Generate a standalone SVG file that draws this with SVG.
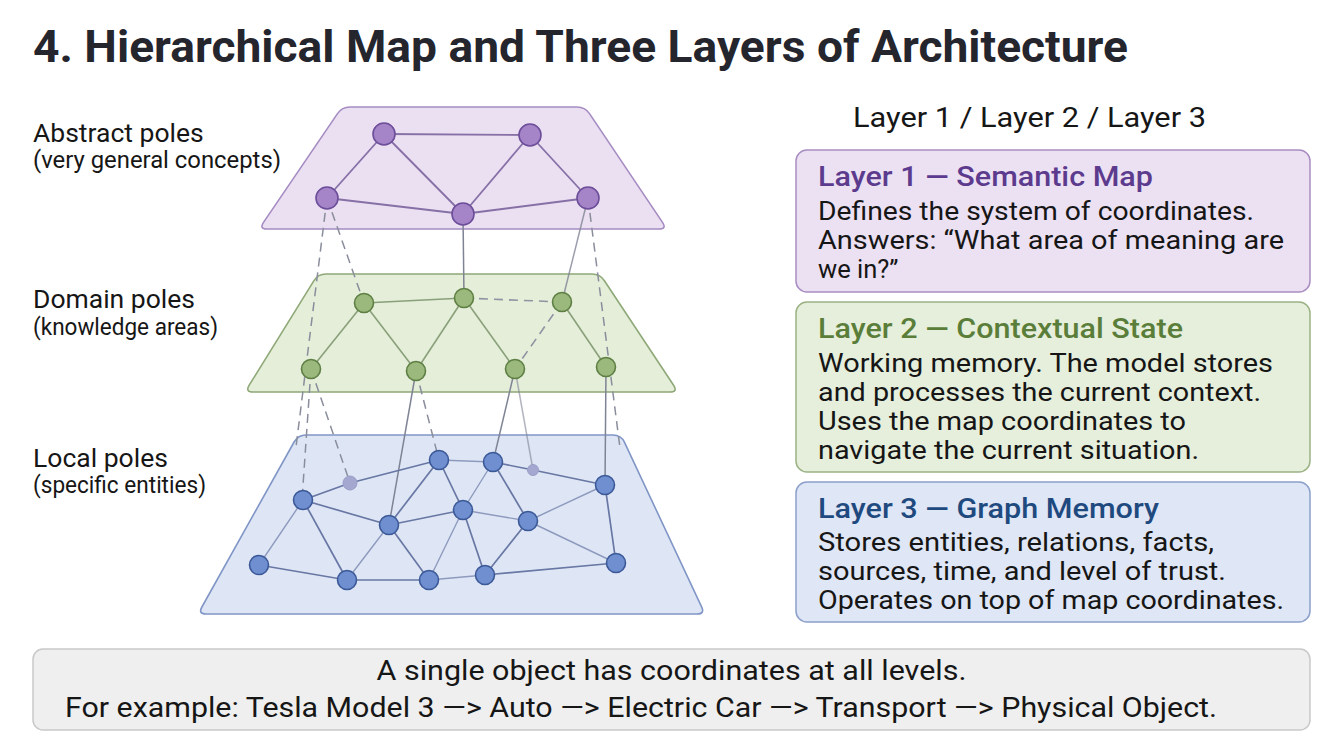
<svg xmlns="http://www.w3.org/2000/svg" width="1344" height="750" viewBox="0 0 1344 750">
<style>
text{font-family:Roboto,"Liberation Sans",Arial,sans-serif;fill:#161616}
.title{font-size:45px;font-weight:700;fill:#25252e}
.lbl{font-size:26.5px}
.sub{font-size:23px}
.bt{font-size:27px;font-weight:500}
.bd{font-size:25.5px}
.ft{font-size:27.5px}
.pe{stroke:#8670a6;stroke-width:1.8;fill:none}
.ge{stroke:#8aa07a;stroke-width:1.6;fill:none}
.gd{stroke:#8e94a2;stroke-width:1.6;fill:none;stroke-dasharray:9 6}
.be{stroke:#6877a3;stroke-width:1.7;fill:none}
.bl{stroke:#8e9abd;stroke-width:1.4;fill:none}
.il{stroke:#7f8495;stroke-width:1.5;fill:none}
.ild{stroke:#8a8e9c;stroke-width:1.5;fill:none;stroke-dasharray:9 6}
.pn{fill:#a684c8;stroke:#6c4d99;stroke-width:1.6}
.gn{fill:#9bb97d;stroke:#5e7f44;stroke-width:1.6}
.bn{fill:#6f8fd1;stroke:#3c5997;stroke-width:1.6}
.fn{fill:#a4a7cf;stroke:#9a9ec8;stroke-width:1}
</style>
<rect width="1344" height="750" fill="#ffffff"/>
<text class="title" x="33" y="62" textLength="1095" lengthAdjust="spacingAndGlyphs">4. Hierarchical Map and Three Layers of Architecture</text>

<g id="labels">
<text class="lbl" x="33" y="142">Abstract poles</text>
<text class="sub" x="33" y="168" textLength="248" lengthAdjust="spacingAndGlyphs">(very general concepts)</text>
<text class="lbl" x="33" y="308">Domain poles</text>
<text class="sub" x="33" y="335" textLength="185" lengthAdjust="spacingAndGlyphs">(knowledge areas)</text>
<text class="lbl" x="33" y="467">Local poles</text>
<text class="sub" x="33" y="493" textLength="173" lengthAdjust="spacingAndGlyphs">(specific entities)</text>
</g>

<g id="plane-abstract">
<path d="M350,107 L577,107 Q585,107 589.5,113.6 L662.5,222.4 Q667,229 659,229 L267,229 Q259,229 263.5,222.4 L337.5,113.6 Q342,107 350,107 Z" fill="#ebdff2" stroke="#a58cc2" stroke-width="1.6"/>
</g>
<g id="plane-domain">
<path d="M326,274 L592,274 Q600,274 604.4,280.7 L673.6,385.3 Q678,392 670,392 L253,392 Q245,392 249.2,385.2 L313.8,280.8 Q318,274 326,274 Z" fill="#e4eed9" stroke="#8fa878" stroke-width="1.6"/>
</g>
<g id="plane-local">
<path d="M306,435 L613,435 Q621,435 624.4,442.2 L701.6,606.8 Q705,614 697,614 L206,614 Q198,614 201.9,607 L294.1,442 Q298,435 306,435 Z" fill="#dee6f6" stroke="#8196c6" stroke-width="1.6"/>
</g>

<g id="connectors">
<line class="pe" x1="384" y1="134" x2="530" y2="135"/>
<line class="pe" x1="384" y1="134" x2="327" y2="198"/>
<line class="pe" x1="384" y1="134" x2="463" y2="214"/>
<line class="pe" x1="530" y1="135" x2="463" y2="214"/>
<line class="pe" x1="530" y1="135" x2="588" y2="198"/>
<line class="pe" x1="327" y1="198" x2="463" y2="214"/>
<line class="pe" x1="463" y1="214" x2="588" y2="198"/>
<line class="ild" x1="327" y1="198" x2="296" y2="447"/>
<line class="ild" x1="327" y1="198" x2="364" y2="303"/>
<line class="il" x1="463" y1="214" x2="464" y2="298"/>
<line class="il" x1="588" y1="198" x2="562" y2="302" stroke-opacity="0.8"/>
<line class="ild" x1="588" y1="198" x2="620" y2="448"/>
<line class="ge" x1="364" y1="303" x2="464" y2="298"/>
<line class="gd" x1="464" y1="298" x2="562" y2="302"/>
<line class="ge" x1="364" y1="303" x2="311" y2="369"/>
<line class="ge" x1="364" y1="303" x2="416" y2="371"/>
<line class="ge" x1="464" y1="298" x2="416" y2="371"/>
<line class="ge" x1="464" y1="298" x2="515" y2="369" stroke="#949ca6"/>
<line class="gd" x1="562" y1="302" x2="515" y2="369"/>
<line class="ge" x1="562" y1="302" x2="606" y2="367" stroke="#949ca6"/>
<line class="ild" x1="311" y1="369" x2="302" y2="500"/>
<line class="ild" x1="311" y1="369" x2="350" y2="483"/>
<line class="il" x1="416" y1="371" x2="389" y2="525"/>
<line class="ild" x1="416" y1="371" x2="439" y2="460"/>
<line class="il" x1="515" y1="369" x2="493" y2="462"/>
<line class="il" x1="515" y1="369" x2="533" y2="470" stroke-opacity="0.6"/>
<line class="il" x1="606" y1="367" x2="605" y2="485"/>
<line class="be" x1="303" y1="500" x2="350" y2="483"/>
<line class="be" x1="350" y1="483" x2="439" y2="460"/>
<line class="bl" x1="439" y1="460" x2="493" y2="462"/>
<line class="be" x1="493" y1="462" x2="533" y2="470"/>
<line class="be" x1="533" y1="470" x2="605" y2="485"/>
<line class="bl" x1="303" y1="500" x2="259" y2="565"/>
<line class="be" x1="303" y1="500" x2="347" y2="580"/>
<line class="be" x1="303" y1="500" x2="389" y2="525"/>
<line class="be" x1="389" y1="525" x2="439" y2="460"/>
<line class="be" x1="389" y1="525" x2="463" y2="510"/>
<line class="bl" x1="389" y1="525" x2="347" y2="580"/>
<line class="be" x1="389" y1="525" x2="429" y2="580"/>
<line class="be" x1="439" y1="460" x2="463" y2="510"/>
<line class="bl" x1="493" y1="462" x2="463" y2="510"/>
<line class="be" x1="493" y1="462" x2="528" y2="521"/>
<line class="bl" x1="463" y1="510" x2="429" y2="580"/>
<line class="be" x1="463" y1="510" x2="485" y2="575"/>
<line class="bl" x1="463" y1="510" x2="528" y2="521"/>
<line class="be" x1="528" y1="521" x2="485" y2="575"/>
<line class="bl" x1="528" y1="521" x2="605" y2="485"/>
<line class="bl" x1="528" y1="521" x2="616" y2="563"/>
<line class="be" x1="605" y1="485" x2="616" y2="563"/>
<line class="be" x1="259" y1="565" x2="347" y2="580"/>
<line class="be" x1="347" y1="580" x2="429" y2="580"/>
<line class="bl" x1="429" y1="580" x2="485" y2="575"/>
<line class="be" x1="485" y1="575" x2="616" y2="563"/>
</g>

<g id="n-a1"><circle class="pn" cx="384" cy="134" r="11"/></g>
<g id="n-a2"><circle class="pn" cx="530" cy="135" r="11"/></g>
<g id="n-a3"><circle class="pn" cx="327" cy="198" r="11"/></g>
<g id="n-a4"><circle class="pn" cx="463" cy="214" r="11"/></g>
<g id="n-a5"><circle class="pn" cx="588" cy="198" r="11"/></g>

<g id="n-d1"><circle class="gn" cx="364" cy="303" r="9.5"/></g>
<g id="n-d2"><circle class="gn" cx="464" cy="298" r="9.5"/></g>
<g id="n-d3"><circle class="gn" cx="562" cy="302" r="9.5"/></g>
<g id="n-d4"><circle class="gn" cx="311" cy="369" r="9.5"/></g>
<g id="n-d5"><circle class="gn" cx="416" cy="371" r="9.5"/></g>
<g id="n-d6"><circle class="gn" cx="515" cy="369" r="9.5"/></g>
<g id="n-d7"><circle class="gn" cx="606" cy="367" r="9.5"/></g>

<g id="n-l1"><circle class="bn" cx="303" cy="500" r="9.5"/></g>
<g id="n-l2"><circle class="fn" cx="350" cy="483" r="7"/></g>
<g id="n-l3"><circle class="bn" cx="439" cy="460" r="9.5"/></g>
<g id="n-l4"><circle class="bn" cx="493" cy="462" r="9.5"/></g>
<g id="n-l5"><circle class="fn" cx="533" cy="470" r="5.5"/></g>
<g id="n-l6"><circle class="bn" cx="605" cy="485" r="9.5"/></g>
<g id="n-l7"><circle class="bn" cx="389" cy="525" r="9.5"/></g>
<g id="n-l8"><circle class="bn" cx="463" cy="510" r="9.5"/></g>
<g id="n-l9"><circle class="bn" cx="528" cy="521" r="9.5"/></g>
<g id="n-l10"><circle class="bn" cx="259" cy="565" r="9.5"/></g>
<g id="n-l11"><circle class="bn" cx="347" cy="580" r="9.5"/></g>
<g id="n-l12"><circle class="bn" cx="429" cy="580" r="9.5"/></g>
<g id="n-l13"><circle class="bn" cx="485" cy="575" r="9.5"/></g>
<g id="n-l14"><circle class="bn" cx="616" cy="563" r="9.5"/></g>

<g id="legend-head">
<text x="853" y="127" font-size="28" textLength="353" lengthAdjust="spacingAndGlyphs">Layer 1 / Layer 2 / Layer 3</text>
</g>

<g id="box-layer1">
<rect x="796" y="150" width="514" height="142" rx="11" fill="#ece1f3" stroke="#a98dc2" stroke-width="1.5"/>
<text class="bt" x="818" y="186" style="fill:#5c3b8e" textLength="335" lengthAdjust="spacingAndGlyphs">Layer 1 — Semantic Map</text>
<text class="bd" x="818" y="220" textLength="436" lengthAdjust="spacingAndGlyphs">Defines the system of coordinates.</text>
<text class="bd" x="818" y="249" textLength="466" lengthAdjust="spacingAndGlyphs">Answers: “What area of meaning are</text>
<text class="bd" x="818" y="278">we in?”</text>
</g>

<g id="box-layer2">
<rect x="796" y="302" width="514" height="170" rx="11" fill="#e6efdc" stroke="#9bb285" stroke-width="1.5"/>
<text class="bt" x="818" y="338" style="fill:#5a7e3a" textLength="365" lengthAdjust="spacingAndGlyphs">Layer 2 — Contextual State</text>
<text class="bd" x="818" y="372" textLength="455" lengthAdjust="spacingAndGlyphs">Working memory. The model stores</text>
<text class="bd" x="818" y="401" textLength="443" lengthAdjust="spacingAndGlyphs">and processes the current context.</text>
<text class="bd" x="818" y="430" textLength="368" lengthAdjust="spacingAndGlyphs">Uses the map coordinates to</text>
<text class="bd" x="818" y="459" textLength="381" lengthAdjust="spacingAndGlyphs">navigate the current situation.</text>
</g>

<g id="box-layer3">
<rect x="796" y="482" width="514" height="140" rx="11" fill="#dfe6f5" stroke="#8ca0cb" stroke-width="1.5"/>
<text class="bt" x="818" y="518" style="fill:#1f4a7f" textLength="341" lengthAdjust="spacingAndGlyphs">Layer 3 — Graph Memory</text>
<text class="bd" x="818" y="551" textLength="396" lengthAdjust="spacingAndGlyphs">Stores entities, relations, facts,</text>
<text class="bd" x="818" y="580" textLength="408" lengthAdjust="spacingAndGlyphs">sources, time, and level of trust.</text>
<text class="bd" x="818" y="609" textLength="466" lengthAdjust="spacingAndGlyphs">Operates on top of map coordinates.</text>
</g>

<g id="footer">
<rect x="33" y="649" width="1277" height="81" rx="10" fill="#efefef" stroke="#c9c9c9" stroke-width="1.5"/>
<text class="ft" x="671.5" y="680" text-anchor="middle" textLength="590" lengthAdjust="spacingAndGlyphs">A single object has coordinates at all levels.</text>
<text class="ft" x="641" y="717" text-anchor="middle" textLength="1152" lengthAdjust="spacingAndGlyphs">For example: Tesla Model 3 —&gt; Auto —&gt; Electric Car —&gt; Transport —&gt; Physical Object.</text>
</g>
</svg>
